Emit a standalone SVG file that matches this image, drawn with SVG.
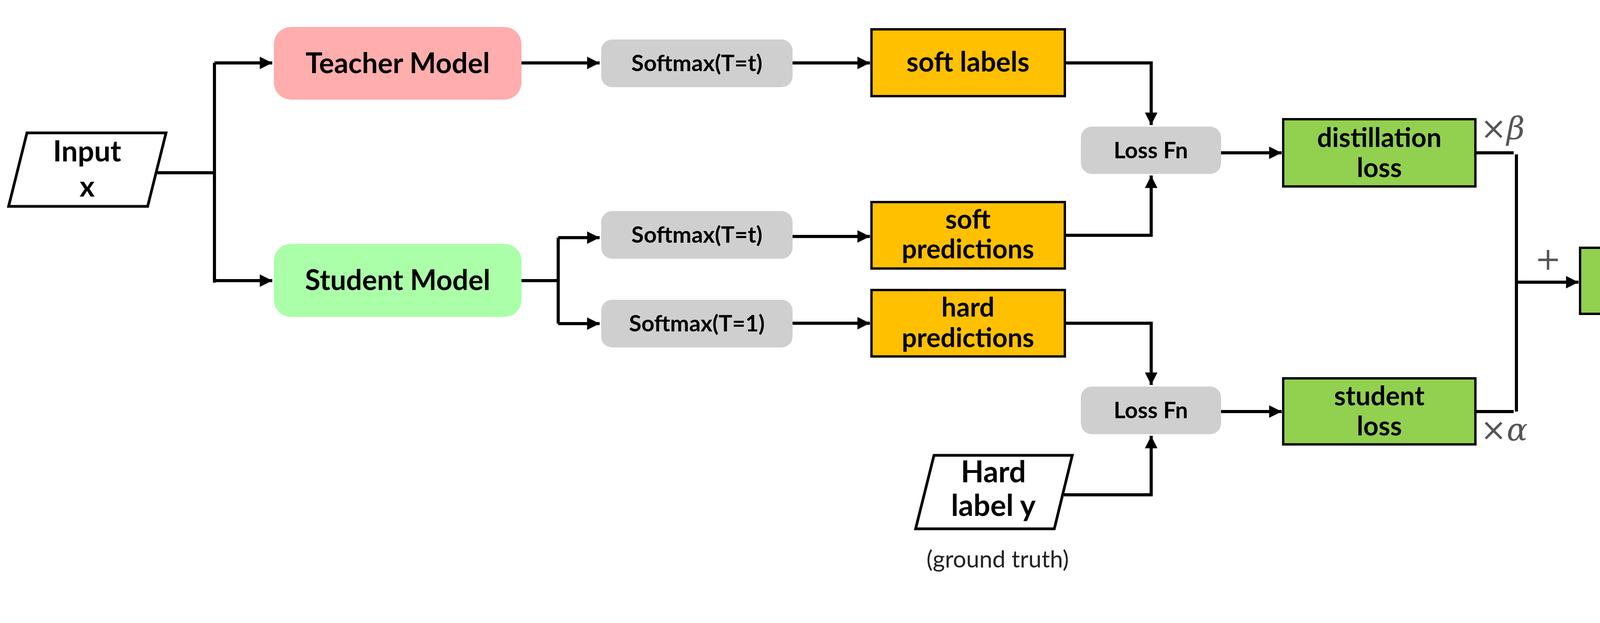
<svg xmlns="http://www.w3.org/2000/svg" width="4602" height="1594" viewBox="0 0 4602 1594">
<style>
.t{font-family:Lato,"Open Sans",sans-serif;font-weight:bold;fill:#000;text-anchor:middle}
.c{fill:none;stroke:#000;stroke-width:8}
.y{fill:#ffc000;stroke:#000;stroke-width:6}
.g{fill:#92d050;stroke:#000;stroke-width:6}
.s{fill:#d0cfd0}
.m{font-family:"DejaVu Serif",serif;fill:#555;font-size:80px}
</style>
<defs>
<marker id="a" viewBox="0 0 10 10" refX="10" refY="5" markerWidth="5" markerHeight="4" markerUnits="strokeWidth" orient="auto"><path d="M0,0 L10,5 L0,10 z" fill="#000"/></marker>
</defs>
<rect width="4602" height="1594" fill="#fff"/>
<g id="input"><polygon points="69,340 425,340 378,528 22,528" fill="#fff" stroke="#000" stroke-width="7"/><text class="t" x="223" y="413" font-size="74">Input</text><text class="t" x="223" y="503" font-size="74">x</text></g>
<g id="teacher"><rect x="701" y="69" width="634" height="186" rx="44" fill="#ffadad"/><text class="t" x="1018" y="187" font-size="72">Teacher Model</text></g>
<g id="student"><rect x="701" y="624" width="634" height="187" rx="44" fill="#aaffa8"/><text class="t" x="1018" y="742" font-size="72">Student Model</text></g>
<g id="sm1"><rect class="s" x="1539" y="101" width="490" height="122" rx="28"/><text class="t" x="1784" y="182" font-size="58">Softmax(T=t)</text></g>
<g id="sm2"><rect class="s" x="1539" y="540" width="490" height="122" rx="28"/><text class="t" x="1784" y="621" font-size="58">Softmax(T=t)</text></g>
<g id="sm3"><rect class="s" x="1539" y="767" width="490" height="122" rx="28"/><text class="t" x="1784" y="848" font-size="58">Softmax(T=1)</text></g>
<g id="softlabels"><rect class="y" x="2231" y="75" width="495" height="171"/><text class="t" x="2478" y="183" font-size="70">soft labels</text></g>
<g id="softpred"><rect class="y" x="2231" y="517" width="495" height="170"/><text class="t" x="2478" y="585" font-size="68">soft</text><text class="t" x="2478" y="661" font-size="68">predictions</text></g>
<g id="hardpred"><rect class="y" x="2231" y="742" width="495" height="170"/><text class="t" x="2478" y="810" font-size="68">hard</text><text class="t" x="2478" y="888" font-size="68">predictions</text></g>
<g id="loss1"><rect class="s" x="2767" y="324" width="359" height="121" rx="28"/><text class="t" x="2946" y="405" font-size="58">Loss Fn</text></g>
<g id="loss2"><rect class="s" x="2767" y="989" width="359" height="122" rx="28"/><text class="t" x="2946" y="1070" font-size="58">Loss Fn</text></g>
<g id="hardlabel"><polygon points="2391,1165 2745,1165 2699,1353 2344,1353" fill="#fff" stroke="#000" stroke-width="7"/><text class="t" x="2543" y="1234" font-size="76">Hard</text><text class="t" x="2543" y="1320" font-size="76">label y</text><text x="2554" y="1452" font-size="60" font-family="Lato,'Open Sans',sans-serif" text-anchor="middle" fill="#222">(ground truth)</text></g>
<g id="distill"><rect class="g" x="3285" y="305" width="492" height="172"/><text class="t" x="3531" y="376" font-size="68">distillation</text><text class="t" x="3531" y="453" font-size="68">loss</text></g>
<g id="studentloss"><rect class="g" x="3285" y="968" width="492" height="169"/><text class="t" x="3531" y="1037" font-size="68">student</text><text class="t" x="3531" y="1114" font-size="68">loss</text></g>
<g id="total"><rect class="g" x="4045" y="634" width="492" height="169"/><text class="t" x="4291" y="742" font-size="72">Total loss</text></g>
<g id="labels"><text class="m" x="3790" y="356">×<tspan font-style="italic">β</tspan></text><text class="m" x="3790" y="1127">×<tspan font-style="italic">α</tspan></text><text class="m" x="3963" y="690" text-anchor="middle">+</text></g>
<g id="connectors">
<path class="c" d="M403,442 H549 M549,161 V723"/>
<path class="c" d="M549,161 H697" marker-end="url(#a)"/>
<path class="c" d="M549,718 H697" marker-end="url(#a)"/>
<path class="c" d="M1335,161 H1535" marker-end="url(#a)"/>
<path class="c" d="M1335,718 H1429 M1429,608 V828"/>
<path class="c" d="M1429,608 H1535" marker-end="url(#a)"/>
<path class="c" d="M1429,828 H1535" marker-end="url(#a)"/>
<path class="c" d="M2029,161 H2227" marker-end="url(#a)"/>
<path class="c" d="M2029,605 H2227" marker-end="url(#a)"/>
<path class="c" d="M2029,827 H2227" marker-end="url(#a)"/>
<path class="c" d="M2726,161 H2947 V320" marker-end="url(#a)"/>
<path class="c" d="M2726,602 H2947 V449" marker-end="url(#a)"/>
<path class="c" d="M2726,827 H2947 V985" marker-end="url(#a)"/>
<path class="c" d="M2724,1266 H2947 V1115" marker-end="url(#a)"/>
<path class="c" d="M3126,391 H3281" marker-end="url(#a)"/>
<path class="c" d="M3126,1053 H3281" marker-end="url(#a)"/>
<path class="c" d="M3777,391 H3875 M3777,1053 H3875 M3882,395 V1053"/>
<path class="c" d="M3882,722 H4041" marker-end="url(#a)"/>
</g>
</svg>
